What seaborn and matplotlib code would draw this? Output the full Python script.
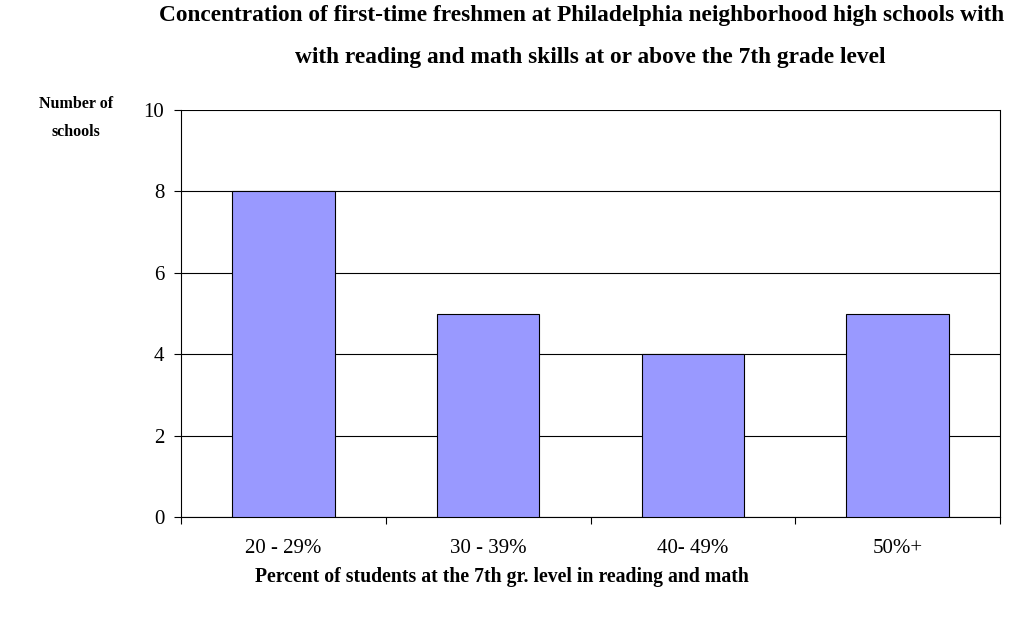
import numpy as np
import pandas as pd
import matplotlib.pyplot as plt
import seaborn as sns
from matplotlib.ticker import FixedLocator

# data
categories = ['20 - 29%', '30 - 39%', '40- 49%', '50%+']
schools = [8, 5, 4, 5]

df = pd.DataFrame({'range': categories, 'schools': schools})

sns.set_style('white')
plt.rcParams['font.family'] = ['Liberation Serif', 'DejaVu Serif']
plt.rcParams['text.color'] = 'black'
plt.rcParams['xtick.color'] = 'black'
plt.rcParams['ytick.color'] = 'black'

fig = plt.figure(figsize=(10.28, 6.27), dpi=100)
ax = fig.add_axes([181/1028, 1 - 517/627, (1000-181)/1028, (517-110)/627])

sns.barplot(data=df, x='range', y='schools', ax=ax, color='#9999FF',
            saturation=1, width=0.5, edgecolor='black', linewidth=0.8, zorder=3)

ax.set_ylim(0, 10)
ax.set_xlim(-0.5, 3.5)
ax.set_yticks(np.arange(0, 11, 2))
ax.yaxis.grid(True, color='black', linewidth=0.8, zorder=0)
ax.set_axisbelow(True)

# category tick marks at the boundaries, labels in the middle
ax.xaxis.set_minor_locator(FixedLocator(np.arange(-0.5, 4, 1)))
ax.tick_params(axis='x', which='major', length=0, pad=16, labelsize=15)
ax.tick_params(axis='x', which='minor', length=5, width=0.8, direction='out', color='black', bottom=True)
ax.tick_params(axis='y', length=5, width=0.8, direction='out', color='black', left=True, labelsize=15, pad=7)

for s in ax.spines.values():
    s.set_color('black')
    s.set_linewidth(0.8)
ax.spines['top'].set_visible(False)

ax.set_xlabel('')
ax.set_ylabel('')

fig.text(582/1028, 1 - 15/627, 'Concentration of first-time freshmen at Philadelphia neighborhood high schools with',
         ha='center', va='center', fontsize=16.8, fontweight='bold')
fig.text(590/1028, 1 - 58/627, 'with reading and math skills at or above the 7th grade level',
         ha='center', va='center', fontsize=16.8, fontweight='bold')
fig.text(76/1028, 1 - 118/627, 'Number of\nschools', ha='center', va='center',
         fontsize=11.5, fontweight='bold', linespacing=1.95)
fig.text(502/1028, 1 - 577/627, 'Percent of students at the 7th gr. level in reading and math',
         ha='center', va='center', fontsize=14.2, fontweight='bold')

fig.savefig('out.png', dpi=100)
